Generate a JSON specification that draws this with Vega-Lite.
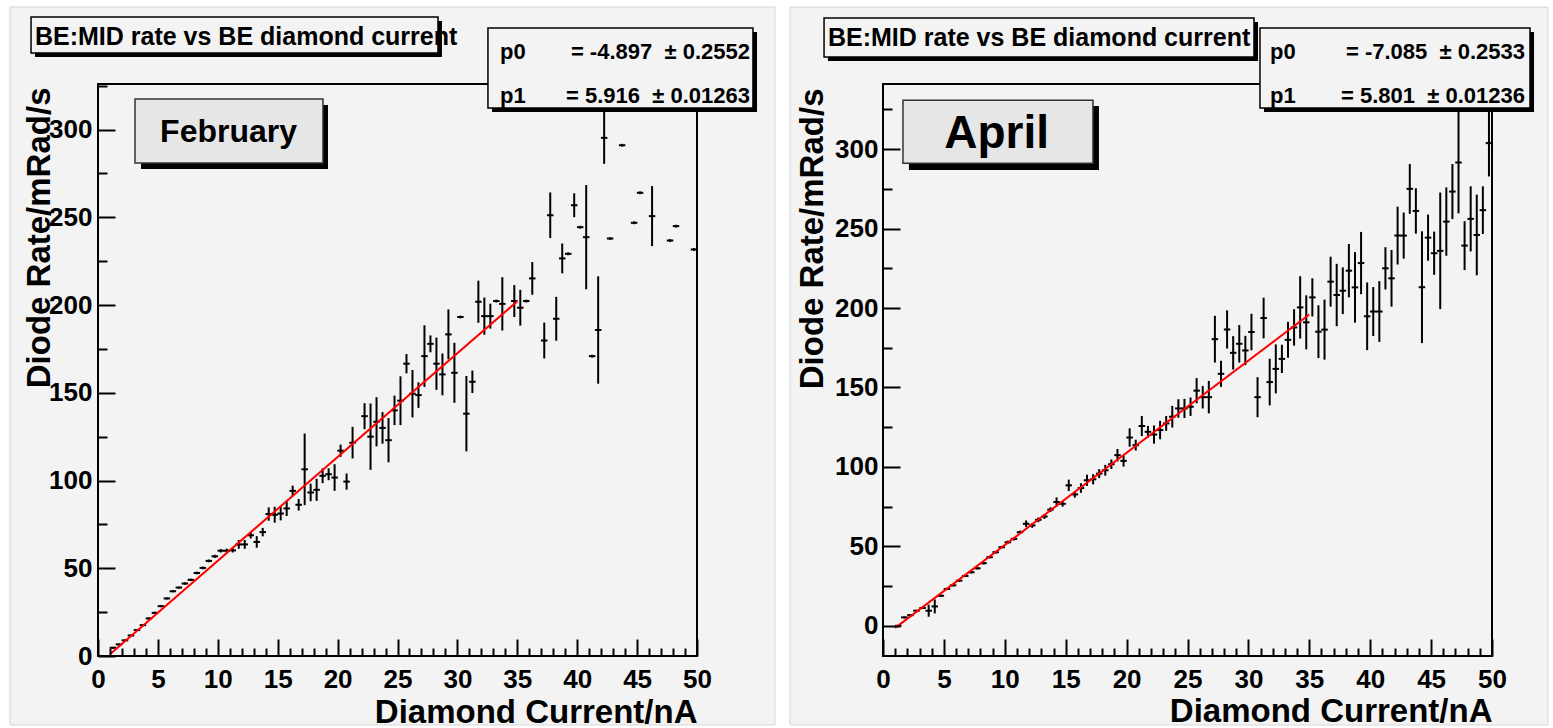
{
  "$schema": "https://vega.github.io/schema/vega-lite/v6.json",
  "autosize": {"type": "none"},
  "padding": {"left": 98, "top": 84, "right": 1455, "bottom": 644},
  "background": "white",
  "bounds": "flush",
  "spacing": 186,
  "config": {
    "view": {"stroke": null},
    "axis": {
      "domain": false, "grid": false, "tickColor": "black", "tickWidth": 2,
      "labelFont": "Liberation Sans", "labelFontWeight": "bold", "labelFontSize": 26, "labelColor": "black",
      "labelOverlap": false, "labelFlush": false,
      "titleFont": "Liberation Sans", "titleFontSize": 33, "titleFontWeight": "bold", "titleColor": "black",
      "titleAlign": "right", "titleBaseline": "alphabetic"
    },
    "text": {"font": "Liberation Sans", "fontWeight": "bold", "color": "black", "baseline": "alphabetic"}
  },
  "datasets": {
    "one": [{}],
    "feb": [
      {"x":1.25,"y":4.7,"lo":4.2,"hi":5.2},{"x":1.75,"y":6.6,"lo":6.1,"hi":7.1},{"x":2.25,"y":8.9,"lo":8.4,"hi":9.4},
      {"x":2.75,"y":11.7,"lo":11.2,"hi":12.2},{"x":3.25,"y":14.8,"lo":14.3,"hi":15.3},{"x":3.75,"y":17.6,"lo":17.1,"hi":18.1},
      {"x":4.25,"y":21.4,"lo":20.8,"hi":22.0},{"x":4.75,"y":24.6,"lo":24.0,"hi":25.2},{"x":5.25,"y":28.4,"lo":27.8,"hi":29.0},
      {"x":5.75,"y":32.8,"lo":32.2,"hi":33.4},{"x":6.25,"y":36.9,"lo":36.3,"hi":37.5},{"x":6.75,"y":39.0,"lo":38.4,"hi":39.6},
      {"x":7.25,"y":41.3,"lo":40.6,"hi":42.0},{"x":7.75,"y":43.4,"lo":42.7,"hi":44.1},{"x":8.25,"y":47.3,"lo":46.5,"hi":48.1},
      {"x":8.75,"y":50.2,"lo":49.4,"hi":51.0},{"x":9.25,"y":54.2,"lo":53.4,"hi":55.0},{"x":9.75,"y":56.8,"lo":55.9,"hi":57.7},
      {"x":10.25,"y":60.0,"lo":59.0,"hi":61.0},{"x":10.75,"y":60.0,"lo":58.8,"hi":61.2},{"x":11.25,"y":60.2,"lo":59.0,"hi":61.4},
      {"x":11.75,"y":63.6,"lo":61.1,"hi":66.1},{"x":12.25,"y":63.6,"lo":61.1,"hi":66.1},{"x":12.75,"y":68.8,"lo":67.0,"hi":70.6},
      {"x":13.25,"y":65.0,"lo":61.7,"hi":68.3},{"x":13.75,"y":70.6,"lo":68.2,"hi":73.0},{"x":14.25,"y":80.9,"lo":77.1,"hi":84.7},
      {"x":14.75,"y":80.5,"lo":76.0,"hi":85.0},{"x":15.25,"y":81.2,"lo":77.3,"hi":85.1},{"x":15.75,"y":84.1,"lo":79.8,"hi":88.4},
      {"x":16.25,"y":94.1,"lo":91.1,"hi":97.1},{"x":16.75,"y":86.2,"lo":82.9,"hi":89.5},{"x":17.25,"y":106.4,"lo":86.0,"hi":126.8},
      {"x":17.75,"y":93.2,"lo":88.2,"hi":98.2},{"x":18.25,"y":94.7,"lo":88.4,"hi":101.0},{"x":18.75,"y":102.7,"lo":98.5,"hi":106.9},
      {"x":19.25,"y":103.6,"lo":100.2,"hi":107.0},{"x":19.75,"y":101.7,"lo":94.1,"hi":109.3},{"x":20.25,"y":117.0,"lo":113.5,"hi":120.5},
      {"x":20.75,"y":99.4,"lo":94.8,"hi":104.0},{"x":21.25,"y":121.6,"lo":112.6,"hi":130.6},{"x":22.25,"y":136.7,"lo":129.3,"hi":144.1},
      {"x":22.75,"y":125.0,"lo":106.1,"hi":143.9},{"x":23.25,"y":133.5,"lo":119.5,"hi":147.5},{"x":23.75,"y":130.0,"lo":121.0,"hi":139.0},
      {"x":24.25,"y":123.0,"lo":110.4,"hi":135.6},{"x":24.75,"y":140.0,"lo":131.6,"hi":148.4},{"x":25.25,"y":145.5,"lo":131.6,"hi":159.4},
      {"x":25.75,"y":166.6,"lo":161.1,"hi":172.1},{"x":26.25,"y":149.5,"lo":136.0,"hi":163.0},{"x":26.75,"y":148.7,"lo":141.4,"hi":156.0},
      {"x":27.25,"y":170.9,"lo":153.3,"hi":188.5},{"x":27.75,"y":177.9,"lo":173.1,"hi":182.7},{"x":28.25,"y":166.6,"lo":151.7,"hi":181.5},
      {"x":28.75,"y":160.5,"lo":148.6,"hi":172.4},{"x":29.25,"y":183.3,"lo":169.1,"hi":197.5},{"x":29.75,"y":161.4,"lo":144.3,"hi":178.5},
      {"x":30.25,"y":193.2,"lo":192.4,"hi":194.0},{"x":30.75,"y":138.1,"lo":116.6,"hi":159.6},{"x":31.25,"y":156.3,"lo":149.9,"hi":162.7},
      {"x":31.75,"y":201.9,"lo":189.9,"hi":213.9},{"x":32.25,"y":193.7,"lo":183.1,"hi":204.3},{"x":32.75,"y":193.7,"lo":186.6,"hi":200.8},
      {"x":33.25,"y":202.3,"lo":201.5,"hi":203.1},{"x":33.75,"y":200.7,"lo":185.5,"hi":215.9},{"x":34.75,"y":202.3,"lo":193.2,"hi":211.4},
      {"x":35.25,"y":198.5,"lo":188.3,"hi":208.7},{"x":35.75,"y":202.3,"lo":201.5,"hi":203.1},{"x":36.25,"y":215.2,"lo":205.9,"hi":224.5},
      {"x":37.25,"y":179.8,"lo":169.6,"hi":190.0},{"x":37.75,"y":251.2,"lo":238.2,"hi":264.2},{"x":38.25,"y":192.2,"lo":179.7,"hi":204.7},
      {"x":38.75,"y":226.6,"lo":218.1,"hi":235.1},{"x":39.25,"y":229.2,"lo":228.4,"hi":230.0},{"x":39.75,"y":256.9,"lo":250.1,"hi":263.7},
      {"x":40.25,"y":244.4,"lo":243.6,"hi":245.2},{"x":40.75,"y":238.7,"lo":209.0,"hi":268.4},{"x":41.25,"y":170.9,"lo":170.1,"hi":171.7},
      {"x":41.75,"y":185.8,"lo":155.2,"hi":216.4},{"x":42.25,"y":295.3,"lo":280.5,"hi":311.0},{"x":42.75,"y":237.9,"lo":237.1,"hi":238.7},
      {"x":43.75,"y":291.1,"lo":290.3,"hi":291.9},{"x":44.75,"y":246.9,"lo":246.1,"hi":247.7},{"x":45.25,"y":264.0,"lo":263.2,"hi":264.8},
      {"x":46.25,"y":250.7,"lo":233.6,"hi":267.8},{"x":47.75,"y":236.8,"lo":236.0,"hi":237.6},{"x":48.25,"y":245.0,"lo":244.2,"hi":245.8},
      {"x":49.75,"y":231.7,"lo":230.9,"hi":232.5}
    ],
    "apr": [
      {"x":1.25,"y":0.0,"lo":-0.6,"hi":0.6},{"x":1.75,"y":5.3,"lo":4.7,"hi":5.9},{"x":2.25,"y":6.7,"lo":6.1,"hi":7.3},
      {"x":2.75,"y":9.5,"lo":8.9,"hi":10.1},{"x":3.25,"y":11.2,"lo":10.6,"hi":11.8},{"x":3.75,"y":9.5,"lo":5.7,"hi":13.3},
      {"x":4.25,"y":12.2,"lo":7.8,"hi":16.6},{"x":4.75,"y":18.9,"lo":18.2,"hi":19.6},{"x":5.25,"y":23.2,"lo":22.5,"hi":23.9},
      {"x":5.75,"y":25.5,"lo":24.8,"hi":26.2},{"x":6.25,"y":28.4,"lo":27.7,"hi":29.1},{"x":6.75,"y":31.4,"lo":30.7,"hi":32.1},
      {"x":7.25,"y":33.7,"lo":33.0,"hi":34.4},{"x":7.75,"y":36.2,"lo":35.5,"hi":36.9},{"x":8.25,"y":39.4,"lo":38.6,"hi":40.2},
      {"x":8.75,"y":43.2,"lo":42.4,"hi":44.0},{"x":9.25,"y":46.3,"lo":45.5,"hi":47.1},{"x":9.75,"y":49.5,"lo":48.7,"hi":50.3},
      {"x":10.25,"y":52.6,"lo":51.6,"hi":53.6},{"x":10.75,"y":54.7,"lo":53.7,"hi":55.7},{"x":11.25,"y":58.9,"lo":57.9,"hi":59.9},
      {"x":11.75,"y":64.2,"lo":62.1,"hi":66.3},{"x":12.25,"y":63.2,"lo":61.7,"hi":64.7},{"x":12.75,"y":66.7,"lo":65.2,"hi":68.2},
      {"x":13.25,"y":68.8,"lo":67.3,"hi":70.3},{"x":13.75,"y":73.1,"lo":71.6,"hi":74.6},{"x":14.25,"y":77.9,"lo":75.0,"hi":80.8},
      {"x":14.75,"y":76.8,"lo":75.0,"hi":78.6},{"x":15.25,"y":88.4,"lo":84.8,"hi":92.0},{"x":15.75,"y":82.7,"lo":80.7,"hi":84.7},
      {"x":16.25,"y":86.7,"lo":83.7,"hi":89.7},{"x":16.75,"y":91.6,"lo":88.1,"hi":95.1},{"x":17.25,"y":92.2,"lo":89.0,"hi":95.4},
      {"x":17.75,"y":95.8,"lo":93.0,"hi":98.6},{"x":18.25,"y":97.9,"lo":94.5,"hi":101.3},{"x":18.75,"y":101.7,"lo":98.7,"hi":104.7},
      {"x":19.25,"y":107.4,"lo":103.5,"hi":111.3},{"x":19.75,"y":103.8,"lo":100.2,"hi":107.4},{"x":20.25,"y":118.5,"lo":112.7,"hi":124.3},
      {"x":20.75,"y":113.7,"lo":110.3,"hi":117.1},{"x":21.25,"y":125.7,"lo":119.4,"hi":132.0},{"x":21.75,"y":122.1,"lo":118.4,"hi":125.8},
      {"x":22.25,"y":120.4,"lo":114.7,"hi":126.1},{"x":22.75,"y":123.2,"lo":117.4,"hi":129.0},{"x":23.25,"y":127.4,"lo":122.7,"hi":132.1},
      {"x":23.75,"y":131.6,"lo":124.8,"hi":138.4},{"x":24.25,"y":136.8,"lo":131.0,"hi":142.6},{"x":24.75,"y":136.8,"lo":130.8,"hi":142.8},
      {"x":25.25,"y":137.9,"lo":132.1,"hi":143.7},{"x":25.75,"y":148.0,"lo":140.1,"hi":155.9},{"x":26.25,"y":143.9,"lo":136.8,"hi":151.0},
      {"x":26.75,"y":143.9,"lo":133.7,"hi":154.1},{"x":27.25,"y":180.4,"lo":165.7,"hi":195.1},{"x":27.75,"y":158.6,"lo":150.4,"hi":166.8},
      {"x":28.25,"y":186.5,"lo":174.5,"hi":198.5},{"x":28.75,"y":171.8,"lo":161.3,"hi":182.3},{"x":29.25,"y":177.5,"lo":165.7,"hi":189.3},
      {"x":29.75,"y":173.3,"lo":164.1,"hi":182.5},{"x":30.25,"y":184.9,"lo":173.4,"hi":196.4},{"x":30.75,"y":143.9,"lo":131.3,"hi":156.5},
      {"x":31.25,"y":193.7,"lo":180.9,"hi":206.5},{"x":31.75,"y":153.4,"lo":138.7,"hi":168.1},{"x":32.25,"y":161.7,"lo":146.3,"hi":177.1},
      {"x":32.75,"y":168.0,"lo":159.1,"hi":176.9},{"x":33.25,"y":180.0,"lo":168.7,"hi":191.3},{"x":33.75,"y":187.8,"lo":176.3,"hi":199.3},
      {"x":34.25,"y":200.4,"lo":180.8,"hi":220.0},{"x":34.75,"y":191.0,"lo":174.0,"hi":208.0},{"x":35.25,"y":206.7,"lo":194.7,"hi":218.7},
      {"x":35.75,"y":185.1,"lo":168.5,"hi":201.7},{"x":36.25,"y":186.4,"lo":167.5,"hi":205.3},{"x":36.75,"y":216.6,"lo":200.9,"hi":232.3},
      {"x":37.25,"y":208.2,"lo":188.6,"hi":227.8},{"x":37.75,"y":210.9,"lo":196.2,"hi":225.6},{"x":38.25,"y":223.5,"lo":206.7,"hi":240.3},
      {"x":38.75,"y":213.0,"lo":190.8,"hi":235.2},{"x":39.25,"y":228.3,"lo":208.7,"hi":247.9},{"x":39.75,"y":194.8,"lo":173.5,"hi":216.1},
      {"x":40.25,"y":197.8,"lo":182.4,"hi":213.2},{"x":40.75,"y":197.8,"lo":178.7,"hi":216.9},{"x":41.25,"y":225.0,"lo":211.7,"hi":238.3},
      {"x":41.75,"y":218.7,"lo":200.9,"hi":236.5},{"x":42.25,"y":245.6,"lo":227.4,"hi":263.8},{"x":42.75,"y":245.6,"lo":231.1,"hi":260.1},
      {"x":43.25,"y":275.0,"lo":259.3,"hi":290.7},{"x":43.75,"y":261.1,"lo":246.8,"hi":275.4},{"x":44.25,"y":213.1,"lo":177.9,"hi":248.3},
      {"x":44.75,"y":244.3,"lo":229.8,"hi":258.8},{"x":45.25,"y":234.5,"lo":220.9,"hi":248.1},{"x":45.75,"y":236.0,"lo":199.3,"hi":272.7},
      {"x":46.25,"y":254.4,"lo":232.9,"hi":275.9},{"x":46.75,"y":273.3,"lo":256.0,"hi":290.6},{"x":47.25,"y":291.6,"lo":259.6,"hi":323.6},
      {"x":47.75,"y":239.3,"lo":223.9,"hi":254.7},{"x":48.25,"y":256.1,"lo":235.6,"hi":276.6},{"x":48.75,"y":246.0,"lo":220.6,"hi":271.4},
      {"x":49.25,"y":261.6,"lo":246.6,"hi":276.6},{"x":49.75,"y":303.8,"lo":282.8,"hi":324.8}
    ],
    "fitfeb": [{"x":1,"y":1.02},{"x":35,"y":202.16}],
    "fitapr": [{"x":1,"y":-1.28},{"x":35,"y":195.95}]
  },
  "hconcat": [
    {
      "width": 599, "height": 572,
      "resolve": {"axis": {"x": "independent", "y": "independent"}},
      "layer": [
        {"data": {"name": "one"}, "mark": {"type": "rect", "fill": "#f3f3f3", "stroke": "#d6d6d6", "strokeWidth": 1},
         "encoding": {"x": {"datum": -7.35, "type": "quantitative", "scale": {"domain": [0, 50], "nice": false, "zero": false}, "axis": null},
                      "x2": {"datum": 56.51}, "y": {"datum": 369.9, "type": "quantitative", "scale": {"domain": [0, 326], "nice": false, "zero": false}, "axis": null}, "y2": {"datum": -39.3}}},
        {"data": {"name": "one"}, "mark": {"type": "rect", "fill": null, "stroke": "black", "strokeWidth": 2},
         "encoding": {"x": {"datum": 0, "type": "quantitative", "axis": null}, "x2": {"datum": 50}, "y": {"datum": 0, "type": "quantitative", "axis": null}, "y2": {"datum": 326}}},
        {"data": {"name": "feb"}, "mark": {"type": "rule", "color": "black", "strokeWidth": 2},
         "encoding": {
           "x": {"field": "x", "type": "quantitative", "scale": {"domain": [0, 50], "nice": false, "zero": false},
                 "axis": {"orient": "bottom", "zindex": 1, "title": "Diamond Current/nA", "values": [0,5,10,15,20,25,30,35,40,45,50],
                          "ticks": false, "labelPadding": 10, "titleX": 599, "titleY": 66, "titleAngle": 0}},
           "y": {"field": "lo", "type": "quantitative", "scale": {"domain": [0, 326], "nice": false, "zero": false},
                 "axis": {"orient": "left", "zindex": 1, "title": "Diode Rate/mRad/s", "values": [0,50,100,150,200,250,300],
                          "ticks": false, "labelPadding": 6, "titleX": -49, "titleY": 3, "titleAngle": 270}},
           "y2": {"field": "hi"}}},
        {"data": {"name": "feb"}, "mark": {"type": "tick", "orient": "horizontal", "size": 6.5, "thickness": 2, "color": "black", "opacity": 1},
         "encoding": {
           "x": {"field": "x", "type": "quantitative",
                 "axis": {"orient": "bottom", "zindex": 1, "title": null, "labels": false, "values": [0,5,10,15,20,25,30,35,40,45,50], "tickSize": 17, "offset": -17}},
           "y": {"field": "y", "type": "quantitative",
                 "axis": {"orient": "left", "zindex": 1, "title": null, "labels": false, "values": [0,50,100,150,200,250,300], "tickSize": 17, "offset": -17}}}},
        {"data": {"name": "fitfeb"}, "mark": {"type": "line", "color": "#ff0000", "strokeWidth": 2},
         "encoding": {
           "x": {"field": "x", "type": "quantitative",
                 "axis": {"orient": "bottom", "zindex": 1, "title": null, "labels": false, "values": [1,2,3,4,6,7,8,9,11,12,13,14,16,17,18,19,21,22,23,24,26,27,28,29,31,32,33,34,36,37,38,39,41,42,43,44,46,47,48,49], "tickSize": 8, "offset": -8}},
           "y": {"field": "y", "type": "quantitative",
                 "axis": {"orient": "left", "zindex": 1, "title": null, "labels": false, "values": [25,75,125,175,225,275,325], "tickSize": 9, "offset": -9}}}},
        {"data": {"name": "one"}, "mark": {"type": "rect", "fill": "black"},
         "encoding": {"x": {"datum": -5.26, "type": "quantitative", "axis": null}, "x2": {"datum": 28.71}, "y": {"datum": 361.9, "type": "quantitative", "axis": null}, "y2": {"datum": 341.4}}},
        {"data": {"name": "one"}, "mark": {"type": "rect", "fill": "#f3f3f3", "stroke": "black", "strokeWidth": 1.5},
         "encoding": {"x": {"datum": -5.59, "type": "quantitative", "axis": null}, "x2": {"datum": 28.38}, "y": {"datum": 364.2, "type": "quantitative", "axis": null}, "y2": {"datum": 343.7}}},
        {"data": {"name": "one"}, "mark": {"type": "text", "text": "BE:MID rate vs BE diamond current", "align": "left", "fontSize": 25},
         "encoding": {"x": {"datum": -5.26, "type": "quantitative", "axis": null}, "y": {"datum": 348.2, "type": "quantitative", "axis": null}}},
        {"data": {"name": "one"}, "mark": {"type": "rect", "fill": "black"},
         "encoding": {"x": {"datum": 32.89, "type": "quantitative", "axis": null}, "x2": {"datum": 55.01}, "y": {"datum": 355.6, "type": "quantitative", "axis": null}, "y2": {"datum": 310.0}}},
        {"data": {"name": "one"}, "mark": {"type": "rect", "fill": "#f3f3f3", "stroke": "black", "strokeWidth": 1.5},
         "encoding": {"x": {"datum": 32.55, "type": "quantitative", "axis": null}, "x2": {"datum": 54.67}, "y": {"datum": 357.9, "type": "quantitative", "axis": null}, "y2": {"datum": 312.3}}},
        {"data": {"name": "one"}, "mark": {"type": "text", "text": "p0", "align": "left", "fontSize": 22},
         "encoding": {"x": {"datum": 33.56, "type": "quantitative", "axis": null}, "y": {"datum": 340.2, "type": "quantitative", "axis": null}}},
        {"data": {"name": "one"}, "mark": {"type": "text", "text": "= -4.897\u00a0\u00a0± 0.2552", "align": "right", "fontSize": 22},
         "encoding": {"x": {"datum": 54.42, "type": "quantitative", "axis": null}, "y": {"datum": 340.2, "type": "quantitative", "axis": null}}},
        {"data": {"name": "one"}, "mark": {"type": "text", "text": "p1", "align": "left", "fontSize": 22},
         "encoding": {"x": {"datum": 33.56, "type": "quantitative", "axis": null}, "y": {"datum": 315.2, "type": "quantitative", "axis": null}}},
        {"data": {"name": "one"}, "mark": {"type": "text", "text": "= 5.916\u00a0\u00a0± 0.01263", "align": "right", "fontSize": 22},
         "encoding": {"x": {"datum": 54.42, "type": "quantitative", "axis": null}, "y": {"datum": 315.2, "type": "quantitative", "axis": null}}},
        {"data": {"name": "one"}, "mark": {"type": "rect", "fill": "black"},
         "encoding": {"x": {"datum": 3.59, "type": "quantitative", "axis": null}, "x2": {"datum": 19.2}, "y": {"datum": 314.0, "type": "quantitative", "axis": null}, "y2": {"datum": 277.6}}},
        {"data": {"name": "one"}, "mark": {"type": "rect", "fill": "#e6e6e6", "stroke": "#333333", "strokeWidth": 1.5},
         "encoding": {"x": {"datum": 3.09, "type": "quantitative", "axis": null}, "x2": {"datum": 18.78}, "y": {"datum": 317.4, "type": "quantitative", "axis": null}, "y2": {"datum": 281.0}}},
        {"data": {"name": "one"}, "mark": {"type": "text", "text": "February", "align": "center", "fontSize": 32},
         "encoding": {"x": {"datum": 10.9, "type": "quantitative", "axis": null}, "y": {"datum": 293.1, "type": "quantitative", "axis": null}}}
      ]
    },
    {
      "width": 609, "height": 572,
      "resolve": {"axis": {"x": "independent", "y": "independent"}},
      "layer": [
        {"data": {"name": "one"}, "mark": {"type": "rect", "fill": "#f3f3f3", "stroke": "#d6d6d6", "strokeWidth": 1},
         "encoding": {"x": {"datum": -7.64, "type": "quantitative", "scale": {"domain": [0, 50], "nice": false, "zero": false}, "axis": null},
                      "x2": {"datum": 54.6}, "y": {"datum": 389.4, "type": "quantitative", "scale": {"domain": [-19, 341], "nice": false, "zero": false}, "axis": null}, "y2": {"datum": -62.4}}},
        {"data": {"name": "one"}, "mark": {"type": "rect", "fill": null, "stroke": "black", "strokeWidth": 2},
         "encoding": {"x": {"datum": 0, "type": "quantitative", "axis": null}, "x2": {"datum": 50}, "y": {"datum": -19, "type": "quantitative", "axis": null}, "y2": {"datum": 341}}},
        {"data": {"name": "apr"}, "mark": {"type": "rule", "color": "black", "strokeWidth": 2},
         "encoding": {
           "x": {"field": "x", "type": "quantitative", "scale": {"domain": [0, 50], "nice": false, "zero": false},
                 "axis": {"orient": "bottom", "zindex": 1, "title": "Diamond Current/nA", "values": [0,5,10,15,20,25,30,35,40,45,50],
                          "ticks": false, "labelPadding": 10, "titleX": 609, "titleY": 65, "titleAngle": 0}},
           "y": {"field": "lo", "type": "quantitative", "scale": {"domain": [-19, 341], "nice": false, "zero": false},
                 "axis": {"orient": "left", "zindex": 1, "title": "Diode Rate/mRad/s", "values": [0,50,100,150,200,250,300],
                          "ticks": false, "labelPadding": 5, "titleX": -61, "titleY": 4, "titleAngle": 270}},
           "y2": {"field": "hi"}}},
        {"data": {"name": "apr"}, "mark": {"type": "tick", "orient": "horizontal", "size": 6.5, "thickness": 2, "color": "black", "opacity": 1},
         "encoding": {
           "x": {"field": "x", "type": "quantitative",
                 "axis": {"orient": "bottom", "zindex": 1, "title": null, "labels": false, "values": [0,5,10,15,20,25,30,35,40,45,50], "tickSize": 17, "offset": -17}},
           "y": {"field": "y", "type": "quantitative",
                 "axis": {"orient": "left", "zindex": 1, "title": null, "labels": false, "values": [0,50,100,150,200,250,300], "tickSize": 17, "offset": -17}}}},
        {"data": {"name": "fitapr"}, "mark": {"type": "line", "color": "#ff0000", "strokeWidth": 2},
         "encoding": {
           "x": {"field": "x", "type": "quantitative",
                 "axis": {"orient": "bottom", "zindex": 1, "title": null, "labels": false, "values": [1,2,3,4,6,7,8,9,11,12,13,14,16,17,18,19,21,22,23,24,26,27,28,29,31,32,33,34,36,37,38,39,41,42,43,44,46,47,48,49], "tickSize": 8, "offset": -8}},
           "y": {"field": "y", "type": "quantitative",
                 "axis": {"orient": "left", "zindex": 1, "title": null, "labels": false, "values": [25,75,125,175,225,275,325], "tickSize": 9, "offset": -9}}}},
        {"data": {"name": "one"}, "mark": {"type": "rect", "fill": "black"},
         "encoding": {"x": {"datum": -4.52, "type": "quantitative", "axis": null}, "x2": {"datum": 30.79}, "y": {"datum": 380.0, "type": "quantitative", "axis": null}, "y2": {"datum": 355.5}}},
        {"data": {"name": "one"}, "mark": {"type": "rect", "fill": "#f3f3f3", "stroke": "black", "strokeWidth": 1.5},
         "encoding": {"x": {"datum": -4.84, "type": "quantitative", "axis": null}, "x2": {"datum": 30.46}, "y": {"datum": 382.5, "type": "quantitative", "axis": null}, "y2": {"datum": 358.0}}},
        {"data": {"name": "one"}, "mark": {"type": "text", "text": "BE:MID rate vs BE diamond current", "align": "left", "fontSize": 25},
         "encoding": {"x": {"datum": -4.52, "type": "quantitative", "axis": null}, "y": {"datum": 364.9, "type": "quantitative", "axis": null}}},
        {"data": {"name": "one"}, "mark": {"type": "rect", "fill": "black"},
         "encoding": {"x": {"datum": 31.28, "type": "quantitative", "axis": null}, "x2": {"datum": 53.45}, "y": {"datum": 373.7, "type": "quantitative", "axis": null}, "y2": {"datum": 323.4}}},
        {"data": {"name": "one"}, "mark": {"type": "rect", "fill": "#f3f3f3", "stroke": "black", "strokeWidth": 1.5},
         "encoding": {"x": {"datum": 30.95, "type": "quantitative", "axis": null}, "x2": {"datum": 53.12}, "y": {"datum": 376.2, "type": "quantitative", "axis": null}, "y2": {"datum": 325.9}}},
        {"data": {"name": "one"}, "mark": {"type": "text", "text": "p0", "align": "left", "fontSize": 22},
         "encoding": {"x": {"datum": 31.77, "type": "quantitative", "axis": null}, "y": {"datum": 356.7, "type": "quantitative", "axis": null}}},
        {"data": {"name": "one"}, "mark": {"type": "text", "text": "= -7.085\u00a0\u00a0± 0.2533", "align": "right", "fontSize": 22},
         "encoding": {"x": {"datum": 52.71, "type": "quantitative", "axis": null}, "y": {"datum": 356.7, "type": "quantitative", "axis": null}}},
        {"data": {"name": "one"}, "mark": {"type": "text", "text": "p1", "align": "left", "fontSize": 22},
         "encoding": {"x": {"datum": 31.77, "type": "quantitative", "axis": null}, "y": {"datum": 329.0, "type": "quantitative", "axis": null}}},
        {"data": {"name": "one"}, "mark": {"type": "text", "text": "= 5.801\u00a0\u00a0± 0.01236", "align": "right", "fontSize": 22},
         "encoding": {"x": {"datum": 52.71, "type": "quantitative", "axis": null}, "y": {"datum": 329.0, "type": "quantitative", "axis": null}}},
        {"data": {"name": "one"}, "mark": {"type": "rect", "fill": "black"},
         "encoding": {"x": {"datum": 2.13, "type": "quantitative", "axis": null}, "x2": {"datum": 17.73}, "y": {"datum": 327.1, "type": "quantitative", "axis": null}, "y2": {"datum": 286.8}}},
        {"data": {"name": "one"}, "mark": {"type": "rect", "fill": "#e6e6e6", "stroke": "#333333", "strokeWidth": 1.5},
         "encoding": {"x": {"datum": 1.64, "type": "quantitative", "axis": null}, "x2": {"datum": 17.24}, "y": {"datum": 330.8, "type": "quantitative", "axis": null}, "y2": {"datum": 291.1}}},
        {"data": {"name": "one"}, "mark": {"type": "text", "text": "April", "align": "center", "fontSize": 46},
         "encoding": {"x": {"datum": 9.33, "type": "quantitative", "axis": null}, "y": {"datum": 300.5, "type": "quantitative", "axis": null}}}
      ]
    }
  ]
}
